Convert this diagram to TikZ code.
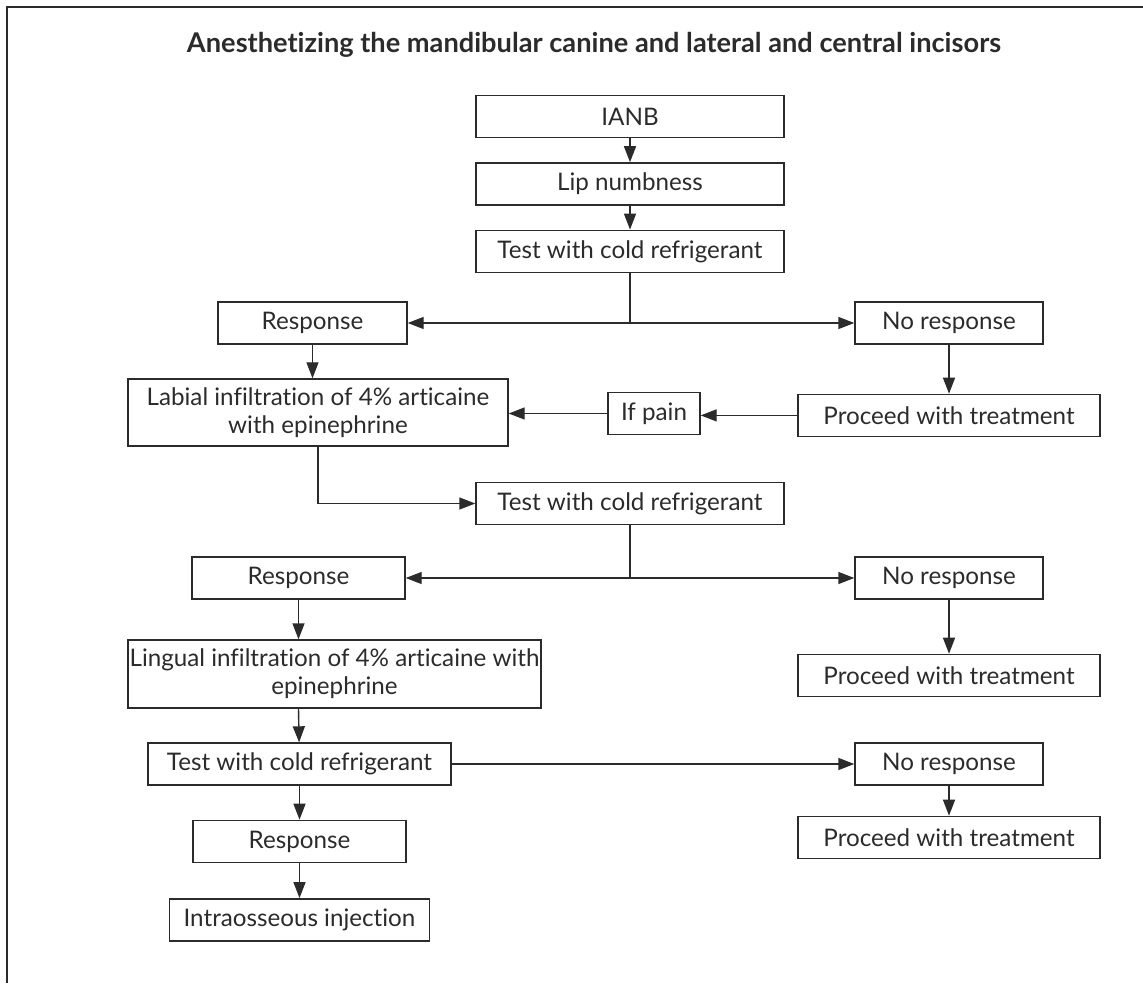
\documentclass[tikz,border=0pt]{standalone}
\usepackage{fontspec}
\setmainfont{Lato}[Ligatures=NoCommon]
\usetikzlibrary{arrows.meta,positioning}
\definecolor{ink}{HTML}{2B2B2B}

\begin{document}
\begin{tikzpicture}[x=0.5pt,y=-0.5pt,
  box/.style={draw=ink,line width=0.7pt,align=center,inner sep=0pt,text=ink,
    font=\fontsize{12.1}{14}\selectfont,minimum height=21pt},
  ar/.style={-{Triangle[length=8pt,width=6pt]},draw=ink,line width=0.7pt},
  ln/.style={draw=ink,line width=0.7pt},
  ttl/.style={font=\bfseries\fontsize{13.6}{16}\selectfont,text=ink}]
\useasboundingbox (0,0) rectangle (1143,983);
\draw[ln] (1143,7) -- (7,7) -- (7,983);

\node[ttl] (title) at (594,45)
  {Anesthetizing the mandibular canine and lateral and central incisors};

\node[box,minimum width=154pt] (ianb) at (630,116.5) {IANB};
\node[box,minimum width=154pt,below=12pt of ianb] (lip) {Lip numbness};
\node[box,minimum width=154pt,below=12pt of lip] (test1) {Test with cold refrigerant};

\node[box,minimum width=94.5pt] (resp1) at (312.5,323) {Response};
\node[box,minimum width=94pt] (nores1) at (949,323) {No response};
\node[box,minimum width=151pt,below=24.5pt of nores1] (proc1) {Proceed with treatment};
\node[box,minimum width=46pt] (ifpain) at (654,413.5) {If pain};
\node[box,minimum width=190pt,minimum height=33.5pt] (labial) at (318,412.5)
  {Labial infiltration of 4\% articaine\\ with epinephrine};

\node[box,minimum width=154pt] (test2) at (630,503.5) {Test with cold refrigerant};
\node[box,minimum width=106.5pt] (resp2) at (298.5,578) {Response};
\node[box,minimum width=94pt] (nores2) at (949,578) {No response};
\node[box,minimum width=151pt,below=27pt of nores2] (proc2) {Proceed with treatment};
\node[box,minimum width=206.5pt,minimum height=34pt] (lingual) at (334.5,674)
  {Lingual infiltration of 4\% articaine with\\ epinephrine};

\node[box,minimum width=151.5pt] (test3) at (299.5,764) {Test with cold refrigerant};
\node[box,minimum width=94pt] (nores3) at (949,764) {No response};
\node[box,minimum width=151pt,below=15pt of nores3] (proc3) {Proceed with treatment};
\node[box,minimum width=106.5pt,below=17pt of test3] (resp3) {Response};
\node[box,minimum width=130pt,below=17.5pt of resp3] (intra) {Intraosseous injection};

\coordinate (split1) at (test1.south |- resp1.east);
\coordinate (split2) at (test2.south |- resp2.east);

\draw[ar] (ianb) -- (lip);
\draw[ar] (lip) -- (test1);
\draw[ln] (test1.south) -- (split1);
\draw[ar] (split1) -- (resp1.east);
\draw[ar] (split1) -- (nores1.west);
\draw[ar] (nores1) -- (proc1);
\draw[ar] (proc1.west) -- (proc1.west -| ifpain.east);
\draw[ar] (ifpain.west) -- (ifpain.west -| labial.east);
\draw[ar] (resp1.south) -- (resp1.south |- labial.north);
\draw[ar] (labial.south) |- (test2.west);
\draw[ln] (test2.south) -- (split2);
\draw[ar] (split2) -- (resp2.east);
\draw[ar] (split2) -- (nores2.west);
\draw[ar] (nores2) -- (proc2);
\draw[ar] (resp2.south) -- (resp2.south |- lingual.north);
\draw[ar] (resp2.south |- lingual.south) -- (test3);
\draw[ar] (test3.east) -- (nores3.west);
\draw[ar] (nores3) -- (proc3);
\draw[ar] (test3) -- (resp3);
\draw[ar] (resp3) -- (intra);
\end{tikzpicture}
\end{document}
